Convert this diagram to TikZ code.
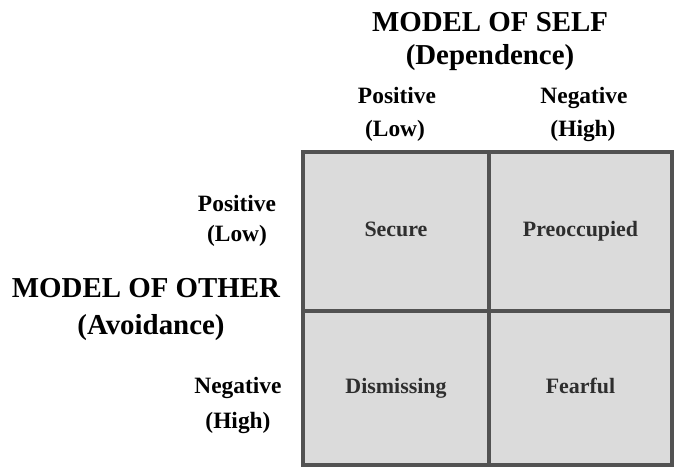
\documentclass[tikz,border=0pt]{standalone}
\usepackage{fontspec}
\setmainfont{Liberation Serif}
\usetikzlibrary{positioning}

\begin{document}
\begin{tikzpicture}[x=1bp,y=-1bp,
  head/.style={font=\bfseries\fontsize{29}{31}\selectfont,anchor=base,inner sep=0pt},
  level/.style={font=\bfseries\fontsize{23.5}{26}\selectfont,anchor=base,inner sep=0pt},
  cell/.style={draw=black!68,line width=4.5bp,fill=black!14,text=black!82,
    font=\bfseries\fontsize{22}{24}\selectfont,inner sep=0pt,
    text height=1.05em,text depth=0pt}]
  \useasboundingbox (0,0) rectangle (676,468);
  % the four styles
  \node[cell,minimum width=186bp,minimum height=159bp] (secure) at (396,231.5) {Secure};
  \node[cell,minimum width=183bp,minimum height=159bp] (preocc) at (580.5,231.5) {Preoccupied};
  \node[cell,minimum width=186bp,minimum height=154bp] (dismiss) at (396,388) {Dismissing};
  \node[cell,minimum width=183bp,minimum height=154bp] (fearful) at (580.5,388) {Fearful};
  % model of self, across the top
  \node[head] (self) at (490,32) {MODEL OF SELF};
  \node[head] (dep) at (490,65) {(Dependence)};
  \node[level] (selfpos) at (397,104) {Positive};
  \node[level] (selflow) at (395,137) {(Low)};
  \node[level] (selfneg) at (584,104) {Negative};
  \node[level] (selfhigh) at (583,137) {(High)};
  % model of other, down the left
  \node[head] (other) at (146,298) {MODEL OF OTHER};
  \node[head] (avoid) at (151,335) {(Avoidance)};
  \node[level] (otherpos) at (237,212) {Positive};
  \node[level] (otherlow) at (237,242) {(Low)};
  \node[level] (otherneg) at (238,393) {Negative};
  \node[level] (otherhigh) at (238,428) {(High)};
\end{tikzpicture}
\end{document}
